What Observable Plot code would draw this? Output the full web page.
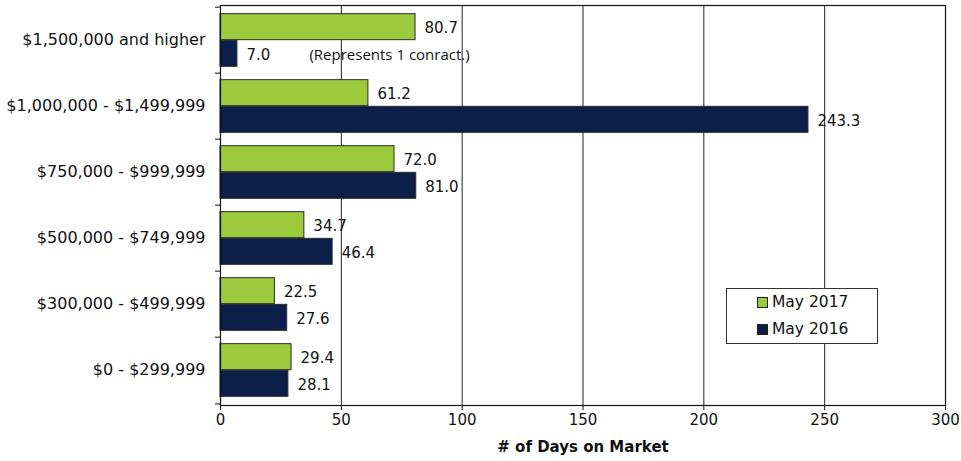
<!DOCTYPE html>
<html>
<head>
<meta charset="utf-8">
<script src="https://cdn.jsdelivr.net/npm/d3@7"></script>
<script src="https://cdn.jsdelivr.net/npm/@observablehq/plot@0.6"></script>
<style>
  html, body { margin: 0; padding: 0; background: #fff; }
  #chart { position: relative; width: 961px; height: 461px; font-family: "DejaVu Sans", sans-serif; }
  #legend {
    position: absolute; left: 726px; top: 288px; width: 150px; height: 54px;
    border: 1px solid #333; background: #fff; box-sizing: content-box;
  }
  #legend .row { position: absolute; left: 30px; display: flex; align-items: center; font-size: 15.5px; color: #111; line-height: 1; }
  #legend .sw { width: 9px; height: 9px; border: 1px solid #222; margin-right: 4px; }
</style>
</head>
<body>
<div id="chart"></div>
<script>
// Price ranges, top to bottom
const categories = [
  "$1,500,000 and higher",
  "$1,000,000 - $1,499,999",
  "$750,000 - $999,999",
  "$500,000 - $749,999",
  "$300,000 - $499,999",
  "$0 - $299,999"
];
// Average days on market
const may2017 = [80.7, 61.2, 72.0, 34.7, 22.5, 29.4];
const may2016 = [7.0, 243.3, 81.0, 46.4, 27.6, 28.1];
const seriesNames = ["May 2017", "May 2016"];
const seriesColors = ["#9BCB3C", "#0C1F4B"];
const xTicks = [0, 50, 100, 150, 200, 250, 300];
const noteText = "(Represents 1 conract.)";
const noteCategory = categories[0];

const W = 961, H = 461, mt = 5, mb = 56, ml = 220, mr = 16;
const band = (H - mt - mb) / categories.length;
const pad = band * 0.1, bar = band * 0.4;

const rows2017 = categories.map((c, i) => ({category: c, series: seriesNames[0], value: may2017[i]}));
const rows2016 = categories.map((c, i) => ({category: c, series: seriesNames[1], value: may2016[i]}));
const note = rows2016.filter(d => d.category === noteCategory).map(d => ({...d, text: noteText}));
const fmt = d3.format(".1f");

const chart = Plot.plot({
  width: W, height: H,
  marginTop: mt, marginBottom: mb, marginLeft: ml, marginRight: mr,
  style: {fontFamily: "DejaVu Sans, sans-serif", color: "#111", background: "#fff"},
  x: {domain: [0, 300]},
  y: {domain: categories, padding: 0},
  marks: [
    Plot.gridX(xTicks, {stroke: "#222", strokeOpacity: 1, strokeWidth: 1}),
    Plot.barX(rows2017, {x: "value", y: "category", fill: seriesColors[0], stroke: "#2a2a2a", strokeWidth: 1,
      insetTop: pad, insetBottom: band - pad - bar}),
    Plot.barX(rows2016, {x: "value", y: "category", fill: seriesColors[1], stroke: "#2a2a2a", strokeWidth: 1,
      insetTop: pad + bar, insetBottom: pad}),
    Plot.text(rows2017, {x: "value", y: "category", text: d => fmt(d.value), dx: 9, dy: -bar / 2 + 1,
      textAnchor: "start", fontSize: 15, fill: "#111"}),
    Plot.text(rows2016, {x: "value", y: "category", text: d => fmt(d.value), dx: 9, dy: bar / 2 + 1,
      textAnchor: "start", fontSize: 15, fill: "#111"}),
    Plot.text(note, {x: "value", y: "category", text: "text", dx: 72, dy: bar / 2 + 1,
      textAnchor: "start", fontSize: 15, fontFamily: "Open Sans, sans-serif", fill: "#111"}),
    // category boundary ticks on the left axis
    Plot.ruleY(categories, {y: d => d, x1: 0, x2: 0, insetLeft: -5, dy: -band / 2, stroke: "#111"}),
    Plot.ruleY(categories.slice(-1), {y: d => d, x1: 0, x2: 0, insetLeft: -5, dy: band / 2, stroke: "#111"}),
    Plot.frame({stroke: "#111", strokeWidth: 1.2}),
    Plot.axisX({ticks: xTicks, tickSize: 5, tickPadding: 4, fontSize: 15, stroke: "#111",
      label: "# of Days on Market", labelAnchor: "center", labelArrow: false, labelOffset: 46}),
    Plot.axisY({tickSize: 0, tickPadding: 15, fontSize: 16, label: null, dy: -1})
  ]
});

// bold axis title
d3.select(chart).selectAll("g[aria-label='x-axis label'] text")
  .attr("font-weight", "bold").attr("font-size", 15);

const host = document.getElementById("chart");
host.appendChild(chart);

// legend box inside the plot area
const legend = document.createElement("div");
legend.id = "legend";
seriesNames.forEach((name, i) => {
  const row = document.createElement("div");
  row.className = "row";
  row.style.top = (6 + i * 27) + "px";
  const sw = document.createElement("span");
  sw.className = "sw";
  sw.style.background = seriesColors[i];
  const label = document.createElement("span");
  label.textContent = name;
  row.appendChild(sw);
  row.appendChild(label);
  legend.appendChild(row);
});
host.appendChild(legend);
</script>
</body>
</html>
